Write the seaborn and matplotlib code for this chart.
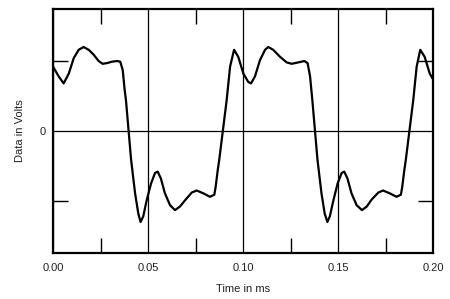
import matplotlib
matplotlib.use("Agg")
import matplotlib.pyplot as plt
from matplotlib.ticker import FixedLocator, NullFormatter
import seaborn as sns
import pandas as pd

time_ms = [0.0000, 0.0030, 0.0056, 0.0083, 0.0109, 0.0135, 0.0161, 0.0188, 0.0214, 0.0240,
           0.0261, 0.0284, 0.0310, 0.0337, 0.0354, 0.0367, 0.0377, 0.0384, 0.0411, 0.0432,
           0.0449, 0.0461, 0.0475, 0.0493, 0.0516, 0.0537, 0.0551, 0.0568, 0.0589, 0.0616,
           0.0642, 0.0668, 0.0695, 0.0730, 0.0756, 0.0791, 0.0826, 0.0849, 0.0856, 0.0867,
           0.0875, 0.0914, 0.0932, 0.0953, 0.0975, 0.1002, 0.1028, 0.1042, 0.1063, 0.1089,
           0.1116, 0.1133, 0.1159, 0.1195, 0.1230, 0.1256, 0.1291, 0.1323, 0.1340, 0.1353,
           0.1365, 0.1392, 0.1413, 0.1430, 0.1444, 0.1457, 0.1475, 0.1498, 0.1519, 0.1533,
           0.1550, 0.1571, 0.1598, 0.1626, 0.1651, 0.1677, 0.1712, 0.1737, 0.1772, 0.1808,
           0.1831, 0.1838, 0.1849, 0.1857, 0.1896, 0.1914, 0.1933, 0.1956, 0.1983, 0.2000]
volts = [0.92, 0.78, 0.68, 0.82, 1.04, 1.16, 1.20, 1.16, 1.09, 1.00,
         0.96, 0.97, 0.99, 1.00, 0.99, 0.87, 0.59, 0.44, -0.41, -0.89,
         -1.18, -1.30, -1.22, -0.99, -0.75, -0.60, -0.58, -0.68, -0.89, -1.06,
         -1.13, -1.08, -0.99, -0.88, -0.85, -0.89, -0.94, -0.91, -0.80, -0.56,
         -0.41, 0.44, 0.92, 1.16, 1.06, 0.82, 0.70, 0.68, 0.78, 1.01,
         1.16, 1.20, 1.16, 1.06, 0.98, 0.96, 0.98, 1.00, 0.97, 0.78,
         0.44, -0.41, -0.89, -1.18, -1.30, -1.22, -1.00, -0.75, -0.60, -0.58,
         -0.68, -0.89, -1.06, -1.13, -1.08, -0.98, -0.88, -0.85, -0.89, -0.94,
         -0.91, -0.80, -0.56, -0.41, 0.44, 0.92, 1.16, 1.06, 0.82, 0.74]

x_ticks = [0.00, 0.05, 0.10, 0.15, 0.20]
x_tick_labels = ["0.00", "0.05", "0.10", "0.15", "0.20"]
x_minor = [0.025, 0.075, 0.125, 0.175]
y_ticks = [0]
y_tick_labels = ["0"]
y_minor = [-1, 1]

df = pd.DataFrame({"Time in ms": time_ms, "Data in Volts": volts})

sns.set_style("white")
plt.rcParams['font.family'] = ['Liberation Sans', 'DejaVu Sans']

fig = plt.figure(figsize=(4.5, 2.99), dpi=100)
ax = fig.add_axes([53/450, 1-253/299, 380/450, 244/299])

sns.lineplot(data=df, x="Time in ms", y="Data in Volts", ax=ax,
             color="black", linewidth=1.6, sort=False,
             solid_joinstyle="round", solid_capstyle="round")

ax.set_xlim(0, 0.2)
ax.set_ylim(-1.743, 1.743)

ax.xaxis.set_major_locator(FixedLocator(x_ticks))
ax.set_xticklabels(x_tick_labels)
ax.xaxis.set_minor_locator(FixedLocator(x_minor))
ax.yaxis.set_major_locator(FixedLocator(y_ticks))
ax.set_yticklabels(y_tick_labels)
ax.yaxis.set_minor_locator(FixedLocator(y_minor))
ax.yaxis.set_minor_formatter(NullFormatter())

ax.grid(True, which="major", color="black", linewidth=0.9)
ax.tick_params(which="major", length=0, labelsize=8, labelcolor="#222222", pad=7)
ax.tick_params(axis="y", which="major", pad=5)
ax.tick_params(which="minor", direction="in", length=11, width=1.0, color="black",
               top=True, bottom=True, left=True, right=True)

for s in ax.spines.values():
    s.set_visible(True)
    s.set_color("black")
    s.set_linewidth(1.6)

ax.set_xlabel("Time in ms", fontsize=8, color="#222222", labelpad=8)
ax.set_ylabel("Data in Volts", fontsize=8, color="#222222", labelpad=11)

fig.savefig("out.png", dpi=100)
